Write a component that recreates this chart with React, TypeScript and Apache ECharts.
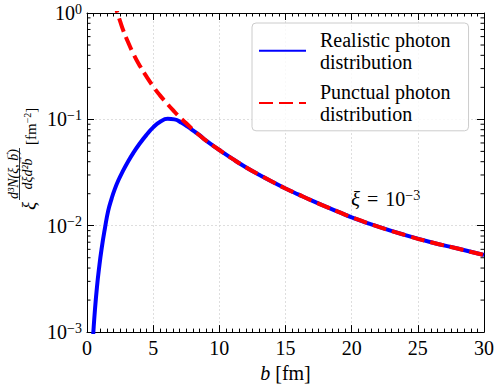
import React, { useEffect, useRef } from "react";
import * as echarts from "echarts";

const FONT = "'Liberation Serif', 'DejaVu Serif', serif";

// Realistic photon distribution (rising part, before it joins the punctual curve)
const realisticHeadB = [0.40, 0.48, 0.60, 0.75, 0.90, 1.10, 1.36, 1.60, 1.86, 2.10, 2.40, 2.70, 3.00, 3.50, 4.00, 4.50, 5.00, 5.50, 6.10, 6.60, 7.15, 7.60, 8.16, 8.50];
const realisticHeadY = [0.00068, 0.0010, 0.00162, 0.00263, 0.00389, 0.00603, 0.00955, 0.0138, 0.0180, 0.0221, 0.0272, 0.0324, 0.0380, 0.0484, 0.0596, 0.0716, 0.0841, 0.0944, 0.1012, 0.1000, 0.0929, 0.0855, 0.0762, 0.0710];

// Punctual photon distribution (small-b part)
const punctualHeadB = [2.00, 2.30, 2.50, 2.75, 3.00, 3.50, 4.00, 4.50, 5.00, 5.50, 6.00, 6.50, 7.00, 7.50, 8.00, 8.50];
const punctualHeadY = [1.35, 1.00, 0.84, 0.68, 0.57, 0.415, 0.318, 0.252, 0.204, 0.169, 0.143, 0.122, 0.105, 0.092, 0.080, 0.071];

// Large-b part where both curves coincide
const sharedTailB = [9, 10, 11, 12, 13, 14, 15, 16, 17, 18, 19, 20, 22, 24, 26, 28, 30];
const sharedTailY = [0.063, 0.0515, 0.0425, 0.0355, 0.0302, 0.0259, 0.0224, 0.0196, 0.0172, 0.0152, 0.0135, 0.0120, 0.0098, 0.0082, 0.0070, 0.0061, 0.0053];

const yMinorTicks = [
  0.002, 0.003, 0.004, 0.005, 0.006, 0.007, 0.008, 0.009,
  0.02, 0.03, 0.04, 0.05, 0.06, 0.07, 0.08, 0.09,
  0.2, 0.3, 0.4, 0.5, 0.6, 0.7, 0.8, 0.9,
];

const seriesNames = ["Realistic photon distribution", "Punctual photon distribution"];

const zip = (xs: number[], ys: number[]) => xs.map((x, i) => [x, ys[i]]);

export default function App() {
  const ref = useRef<HTMLDivElement>(null);
  useEffect(() => {
    if (!ref.current) return;
    const chart = echarts.init(ref.current, null, { renderer: "svg" });
    const realistic = zip(realisticHeadB, realisticHeadY).concat(zip(sharedTailB, sharedTailY));
    const punctual = zip(punctualHeadB, punctualHeadY).concat(zip(sharedTailB, sharedTailY));

    const axisLine = { show: true, onZero: false, lineStyle: { color: "#000", width: 1 } };
    const axisTick = { show: true, inside: true, length: 7, lineStyle: { color: "#000", width: 1 } };
    const gridLine = { show: true, lineStyle: { color: "#d6d6d6", width: 0.8, type: [2, 2] as any } };

    const option: any = {
      animation: false,
      textStyle: { fontFamily: FONT, color: "#000" },
      grid: { left: 87, right: 14, top: 13, bottom: 55, containLabel: false },
      legend: {
        data: seriesNames,
        orient: "vertical",
        left: 252,
        top: 23,
        itemWidth: 47,
        itemHeight: 14,
        itemGap: 9,
        padding: [6, 18, 6, 6],
        borderColor: "#cccccc",
        borderWidth: 1,
        borderRadius: 4,
        backgroundColor: "rgba(255,255,255,0.8)",
        itemStyle: { opacity: 0 },
        formatter: (n: string) => n.replace(" distribution", "\ndistribution"),
        textStyle: { fontFamily: FONT, fontSize: 20, lineHeight: 21.7, color: "#000", padding: [0, 0, 0, 9] },
      },
      xAxis: [
        {
          type: "value", min: 0, max: 30, interval: 5, position: "bottom",
          axisLine, axisTick,
          minorTick: { show: true, splitNumber: 10, length: 3.5, lineStyle: { color: "#000", width: 1 } },
          axisLabel: { fontFamily: FONT, fontSize: 20, color: "#000", margin: 6 },
          splitLine: gridLine,
          name: "{i|b} [fm]",
          nameLocation: "middle",
          nameGap: 30,
          nameTextStyle: {
            fontFamily: FONT, fontSize: 20, color: "#000",
            rich: { i: { fontFamily: FONT, fontSize: 20, fontStyle: "italic", color: "#000" } },
          },
        },
        {
          type: "value", min: 0, max: 30, interval: 5, position: "top",
          axisLine, axisTick,
          minorTick: { show: true, splitNumber: 10, length: 3.5, lineStyle: { color: "#000", width: 1 } },
          axisLabel: { show: false },
          splitLine: { show: false },
        },
      ],
      yAxis: [
        {
          type: "log", logBase: 10, min: 0.001, max: 1, position: "left",
          axisLine, axisTick,
          axisLabel: {
            margin: 5,
            formatter: (v: number) => {
              const e = Math.round(Math.log10(v));
              return `{b|10}{s|${e === 0 ? "0" : "\u2212" + Math.abs(e)}}`;
            },
            rich: {
              b: { fontFamily: FONT, fontSize: 20, lineHeight: 22, color: "#000" },
              s: { fontFamily: FONT, fontSize: 14, lineHeight: 14, color: "#000", verticalAlign: "top" },
            },
          },
          splitLine: gridLine,
        },
        {
          type: "log", logBase: 10, min: 0.001, max: 1, position: "right",
          axisLine, axisTick,
          axisLabel: { show: false },
          splitLine: { show: false },
        },
      ],
      graphic: [
        {
          type: "group",
          x: 28,
          y: 162,
          rotation: Math.PI / 2,
          silent: true,
          children: [
            { type: "text", x: -44, y: 0, style: { text: "\u03be", fontFamily: FONT, fontStyle: "italic", fontSize: 19, fill: "#000", align: "center", verticalAlign: "middle" } },
            { type: "text", x: -12, y: -15, style: { text: "d\u00b3N(\u03be, b)", fontFamily: FONT, fontStyle: "italic", fontSize: 14, fill: "#000", align: "center", verticalAlign: "middle" } },
            { type: "text", x: 7, y: -22, style: { text: "\u2192", fontFamily: FONT, fontSize: 9, fill: "#000", align: "center", verticalAlign: "middle" } },
            { type: "line", shape: { x1: -38, y1: -8.5, x2: 14, y2: -8.5 }, style: { stroke: "#000", lineWidth: 0.8 } },
            { type: "text", x: -12, y: -1, style: { text: "d\u03bed\u00b2b", fontFamily: FONT, fontStyle: "italic", fontSize: 14, fill: "#000", align: "center", verticalAlign: "middle" } },
            { type: "text", x: 2, y: -9.5, style: { text: "\u2192", fontFamily: FONT, fontSize: 9, fill: "#000", align: "center", verticalAlign: "middle" } },
            {
              type: "text", x: 17, y: 3,
              style: {
                text: "{n|[fm}{s|\u22122}{n|]}",
                align: "left", verticalAlign: "middle",
                rich: {
                  n: { fontFamily: FONT, fontSize: 15, lineHeight: 17, fill: "#000" },
                  s: { fontFamily: FONT, fontSize: 10, lineHeight: 10, fill: "#000", verticalAlign: "top" },
                },
              },
            },
          ],
        },
        {
          type: "text",
          x: 351,
          y: 199,
          silent: true,
          style: {
            text: "{i|\u03be}{e|=}{n|10}{s|\u22123}",
            verticalAlign: "middle",
            rich: {
              i: { fontFamily: FONT, fontSize: 21, fontStyle: "italic", lineHeight: 22, fill: "#000" },
              e: { fontFamily: FONT, fontSize: 20, lineHeight: 22, fill: "#000", padding: [0, 7, 0, 7] },
              n: { fontFamily: FONT, fontSize: 20, lineHeight: 22, fill: "#000" },
              s: { fontFamily: FONT, fontSize: 14, lineHeight: 14, fill: "#000", verticalAlign: "top" },
            },
          },
        },
      ],
      series: [
        {
          type: "custom",
          name: "minorY",
          xAxisIndex: 0,
          yAxisIndex: 0,
          silent: true,
          data: yMinorTicks.map((v) => [0, v]),
          renderItem: (_p: any, api: any) => {
            const v = api.value(1);
            const pl = api.coord([0, v]);
            const pr = api.coord([30, v]);
            return {
              type: "group",
              children: [
                { type: "line", shape: { x1: pl[0], y1: pl[1], x2: pl[0] + 3.5, y2: pl[1] }, style: { stroke: "#000", lineWidth: 1 } },
                { type: "line", shape: { x1: pr[0], y1: pr[1], x2: pr[0] - 3.5, y2: pr[1] }, style: { stroke: "#000", lineWidth: 1 } },
              ],
            };
          },
        },
        {
          type: "line",
          name: seriesNames[0],
          data: realistic,
          symbol: "none",
          showSymbol: false,
          smooth: 0.5,
          clip: true,
          lineStyle: { color: "#0000ff", width: 4 },
          itemStyle: { color: "#0000ff" },
          z: 3,
        },
        {
          type: "line",
          name: seriesNames[1],
          data: punctual,
          symbol: "none",
          showSymbol: false,
          smooth: 0.5,
          clip: true,
          lineStyle: { color: "#ff0000", width: 4, type: [14, 6] },
          itemStyle: { color: "#ff0000" },
          z: 4,
        },
      ],
    };
    chart.setOption(option);
    return () => chart.dispose();
  }, []);
  return <div ref={ref} style={{ width: 498, height: 388, position: "absolute", left: 0, top: 0 }} />;
}
